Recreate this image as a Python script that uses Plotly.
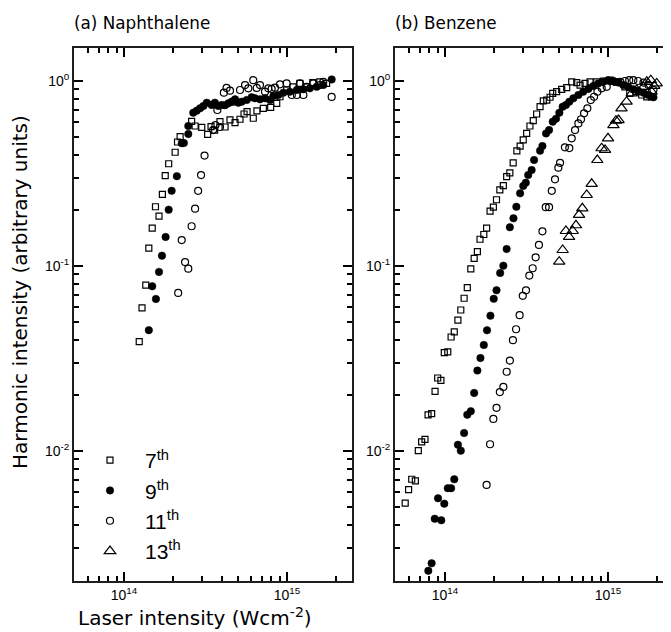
import plotly.graph_objects as go

# ---------------- data ----------------
# (a) Naphthalene
naph_7_x = [1.24e14, 1.29e14, 1.36e14, 1.42e14, 1.49e14, 1.56e14, 1.64e14, 1.72e14, 1.79e14, 1.88e14,
            2.06e14, 2.13e14, 2.21e14, 2.6e14, 2.73e14, 3.0e14, 3.26e14, 3.42e14, 3.6e14, 3.88e14,
            4.17e14, 4.47e14, 4.8e14, 5.15e14, 5.45e14, 5.69e14, 6.21e14, 6.54e14, 7.16e14, 7.94e14,
            8.65e14, 9.06e14, 9.95e14, 1.09e15, 1.2e15, 1.32e15, 1.44e15, 1.59e15, 1.75e15]
naph_7_y = [0.039, 0.0594, 0.0787, 0.125, 0.160, 0.209, 0.186, 0.244, 0.308, 0.357,
            0.412, 0.468, 0.50, 0.605, 0.571, 0.562, 0.515, 0.566, 0.543, 0.603,
            0.564, 0.616, 0.595, 0.621, 0.663, 0.683, 0.629, 0.689, 0.712, 0.721,
            0.757, 0.822, 0.894, 0.93, 0.972, 0.93, 0.98, 0.99, 0.97]

naph_9_x = [1.42e14, 1.49e14, 1.57e14, 1.64e14, 1.71e14, 1.80e14, 1.88e14, 1.96e14, 2.11e14, 2.26e14,
            2.33e14, 2.48e14, 2.48e14, 2.66e14, 2.79e14, 2.93e14, 3.07e14, 3.22e14, 3.45e14, 3.61e14,
            3.79e14, 3.98e14, 4.17e14, 4.37e14, 4.58e14, 4.80e14, 5.03e14, 5.27e14, 5.66e14, 6.07e14,
            6.36e14, 6.83e14, 7.33e14, 7.87e14, 8.25e14, 8.85e14, 9.5e14, 1.04e15, 1.15e15, 1.26e15,
            1.38e15, 1.52e15, 1.67e15, 1.88e15]
naph_9_y = [0.045, 0.0777, 0.0663, 0.0929, 0.1137, 0.1435, 0.2015, 0.255, 0.306, 0.461,
            0.462, 0.517, 0.571, 0.674, 0.691, 0.712, 0.733, 0.763, 0.742, 0.763,
            0.733, 0.742, 0.739, 0.757, 0.773, 0.796, 0.763, 0.773, 0.789, 0.817,
            0.806, 0.796, 0.806, 0.789, 0.83, 0.84, 0.865, 0.875, 0.894, 0.902,
            0.913, 0.93, 0.95, 1.02]

naph_11_x = [2.15e14, 2.26e14, 2.37e14, 2.48e14, 2.60e14, 2.73e14, 2.85e14, 2.97e14, 3.12e14, 3.52e14,
             3.64e14, 3.74e14, 3.88e14, 4.10e14, 4.26e14, 4.47e14, 4.68e14, 5.15e14, 5.53e14, 5.79e14,
             6.21e14, 6.52e14, 6.83e14, 7.33e14, 7.68e14, 8.05e14, 8.44e14, 9.06e14, 9.95e14, 1.07e15,
             1.15e15, 1.2e15, 1.26e15, 1.32e15, 1.45e15, 1.59e15, 1.67e15, 1.88e15]
naph_11_y = [0.0715, 0.138, 0.105, 0.0967, 0.164, 0.204, 0.255, 0.31, 0.395, 0.543,
             0.578, 0.697, 0.564, 0.865, 0.917, 0.887, 0.773, 0.894, 0.95, 0.913,
             1.01, 0.917, 0.95, 0.875, 0.913, 0.906, 0.92, 0.96, 0.97, 0.84,
             0.84, 0.97, 0.84, 0.93, 0.97, 0.95, 0.99, 0.82]

# (b) Benzene
benz_7_x = [5.7e13, 5.98e13, 6.25e13, 6.58e13, 6.86e13, 7.19e13, 7.54e13, 7.87e13, 8.28e13, 8.69e13,
            9.02e13, 9.44e13, 9.9e13, 1.04e14, 1.09e14, 1.14e14, 1.2e14, 1.25e14, 1.31e14, 1.37e14,
            1.44e14, 1.51e14, 1.58e14, 1.64e14, 1.73e14, 1.80e14, 1.89e14, 1.98e14, 2.07e14, 2.17e14,
            2.28e14, 2.39e14, 2.5e14, 2.62e14, 2.76e14, 2.89e14, 3.02e14, 3.17e14, 3.32e14, 3.48e14,
            3.65e14, 3.83e14, 4.01e14, 4.21e14, 4.41e14, 4.58e14, 4.84e14, 5.2e14, 5.58e14, 5.99e14,
            6.43e14, 6.74e14, 7.23e14, 7.76e14, 8.53e14, 9.36e14, 1.03e15, 1.13e15, 1.27e15, 1.36e15,
            1.5e15, 1.61e15, 1.73e15, 1.85e15]
benz_7_y = [0.00523, 0.00618, 0.00703, 0.00689, 0.01004, 0.0112, 0.01156, 0.01566, 0.0159, 0.021,
            0.0248, 0.0241, 0.034, 0.0343, 0.0413, 0.044, 0.051, 0.0578, 0.0669, 0.0763,
            0.0964, 0.110, 0.1195, 0.1395, 0.148, 0.16, 0.198, 0.208, 0.228, 0.258,
            0.272, 0.304, 0.319, 0.361, 0.419, 0.445, 0.48, 0.521, 0.571, 0.61,
            0.663, 0.726, 0.78, 0.789, 0.817, 0.858, 0.875, 0.902, 0.92, 0.99,
            0.98, 0.95, 0.97, 0.99, 0.99, 1.0, 1.01, 0.99, 0.93, 0.858,
            0.875, 0.84, 0.82, 0.82]

benz_9_x = [7.9e13, 8.28e13, 8.65e13, 9.49e13, 9.06e13, 9.9e13, 1.04e14, 1.09e14, 1.14e14, 1.2e14,
            1.25e14, 1.31e14, 1.37e14, 1.44e14, 1.51e14, 1.58e14, 1.65e14, 1.73e14, 1.81e14, 1.9e14,
            1.99e14, 2.07e14, 2.18e14, 2.28e14, 2.39e14, 2.5e14, 2.63e14, 2.74e14, 2.89e14, 3.02e14,
            3.13e14, 3.24e14, 3.4e14, 3.52e14, 3.83e14, 3.96e14, 4.17e14, 4.35e14, 4.58e14, 4.8e14,
            5.03e14, 5.27e14, 5.52e14, 5.79e14, 6.13e14, 6.58e14, 7.05e14, 7.57e14, 8.13e14, 8.71e14,
            9.35e14, 1.0e15, 1.08e15, 1.16e15, 1.24e15, 1.33e15, 1.43e15, 1.53e15, 1.65e15, 1.77e15,
            1.9e15]
benz_9_y = [0.00225, 0.00247, 0.0043, 0.00422, 0.00555, 0.00519, 0.00629, 0.00629, 0.00703, 0.0108,
            0.01004, 0.0125, 0.0157, 0.0164, 0.0206, 0.0272, 0.0318, 0.0374, 0.0449, 0.0539,
            0.0665, 0.0739, 0.0917, 0.1004, 0.1236, 0.162, 0.181, 0.209, 0.247, 0.271,
            0.282, 0.31, 0.33, 0.374, 0.42, 0.445, 0.521, 0.543, 0.603, 0.625,
            0.674, 0.726, 0.742, 0.773, 0.806, 0.84, 0.875, 0.906, 0.94, 0.97,
            0.99, 1.01, 1.0, 0.98, 0.95, 0.93, 0.902, 0.887, 0.865, 0.84,
            0.817]

benz_11_x = [1.8e14, 1.89e14, 1.98e14, 2.07e14, 2.17e14, 2.28e14, 2.39e14, 2.5e14, 2.61e14, 2.73e14,
             2.87e14, 3.0e14, 3.14e14, 3.29e14, 3.45e14, 3.6e14, 3.77e14, 3.96e14, 4.15e14, 4.35e14,
             4.52e14, 4.73e14, 4.96e14, 5.08e14, 5.44e14, 5.79e14, 5.99e14, 6.28e14, 6.58e14, 6.83e14,
             7.13e14, 7.47e14, 7.84e14, 8.21e14, 8.61e14, 9.15e14, 9.82e14, 1.03e15, 1.1e15, 1.19e15,
             1.27e15, 1.35e15, 1.43e15, 1.53e15, 1.65e15, 1.77e15, 1.9e15]
benz_11_y = [0.00655, 0.01087, 0.0149, 0.0171, 0.0208, 0.0222, 0.0268, 0.0308, 0.0397, 0.0455,
             0.0542, 0.069, 0.0739, 0.0887, 0.0972, 0.1114, 0.13, 0.154, 0.208, 0.208,
             0.255, 0.294, 0.34, 0.361, 0.438, 0.434, 0.49, 0.543, 0.59, 0.621,
             0.669, 0.712, 0.789, 0.822, 0.875, 0.913, 0.93, 1.0, 0.99, 0.99,
             1.0, 1.01, 1.01, 1.0, 0.98, 0.95, 0.894]

benz_13_x = [5.02e14, 5.27e14, 5.52e14, 5.77e14, 6.07e14, 6.36e14, 6.64e14, 6.96e14, 7.4e14, 7.94e14,
             8.6e14, 9.14e14, 9.59e14, 1.0e15, 1.08e15, 1.12e15, 1.16e15, 1.21e15, 1.3e15, 1.4e15,
             1.5e15, 1.65e15, 1.73e15, 1.83e15, 1.85e15, 1.92e15, 1.99e15]
benz_13_y = [0.1055, 0.122, 0.1546, 0.1435, 0.1546, 0.166, 0.189, 0.205, 0.242, 0.278,
             0.374, 0.433, 0.424, 0.49, 0.578, 0.61, 0.615, 0.712, 0.773, 0.858,
             0.894, 0.93, 0.99, 1.01, 0.875, 0.94, 0.97]

series_names = ["7<sup>th</sup>", "9<sup>th</sup>", "11<sup>th</sup>", "13<sup>th</sup>"]

x_tick_vals = [1e14, 1e15]
x_tick_text = ["10<sup>14</sup>", "10<sup>15</sup>"]
y_tick_vals = [1e-2, 1e-1, 1]
y_tick_text = ["10<sup>-2</sup>", "10<sup>-1</sup>", "10<sup>0</sup>"]
x_minor_vals = [m * 10.0 ** e for e in (13, 14, 15) for m in range(2, 10)]
y_minor_vals = [m * 10.0 ** e for e in (-3, -2, -1, 0) for m in range(2, 10)]

# ---------------- layout helpers ----------------
OFF = 8                      # page body margin of the html page
W, H = 671 - OFF, 632 - OFF  # figure size so that it fills the window


def fx(p):  # page pixel x -> paper
    return (p - OFF) / W


def fy(p):  # page pixel y -> paper
    return (H - (p - OFF)) / H


styles = [
    dict(symbol="square-open", size=6, color="black", line=dict(width=1.2, color="black")),
    dict(symbol="circle", size=7.5, color="black", line=dict(width=0.5, color="black")),
    dict(symbol="circle-open", size=7, color="black", line=dict(width=1.2, color="black")),
    dict(symbol="triangle-up-open", size=10, color="black", line=dict(width=1.2, color="black")),
]

fig = go.Figure()

benz = [(benz_7_x, benz_7_y), (benz_9_x, benz_9_y), (benz_11_x, benz_11_y), (benz_13_x, benz_13_y)]
for i, (xs, ys) in enumerate(benz):
    fig.add_trace(go.Scatter(x=xs, y=ys, mode="markers", name=series_names[i],
                             marker=styles[i], xaxis="x2", yaxis="y2", showlegend=True))

naph = [(naph_7_x, naph_7_y), (naph_9_x, naph_9_y), (naph_11_x, naph_11_y)]
for i, (xs, ys) in enumerate(naph):
    fig.add_trace(go.Scatter(x=xs, y=ys, mode="markers", name=series_names[i],
                             marker=styles[i], xaxis="x", yaxis="y", showlegend=False))

tickfont = dict(family="Liberation Sans, Arial, sans-serif", size=14, color="black")
LINE = "#1e1e1e"
TICK = "#000000"


def axis(minor_vals, **kw):
    d = dict(type="log", showline=True, linewidth=2, linecolor=LINE, mirror="ticks",
             ticks="inside", ticklen=9, tickwidth=2, tickcolor=TICK,
             showgrid=False, zeroline=False, tickfont=tickfont,
             minor=dict(tickmode="array", tickvals=minor_vals, ticks="inside", ticklen=5,
                        tickwidth=1.5, tickcolor=TICK, showgrid=False))
    d.update(kw)
    return d


xr1 = [13.6933, 15.3988]
xr2 = [13.6933, 15.3865]
yr = [-2.703, 0.18]
yd = [fy(581), fy(47.7)]

fig.update_layout(
    width=W, height=H,
    margin=dict(l=0, r=0, t=0, b=0),
    plot_bgcolor="white",
    xaxis=axis(x_minor_vals, domain=[fx(74), fx(352)], range=xr1, anchor="y",
               tickvals=x_tick_vals, ticktext=x_tick_text),
    yaxis=axis(y_minor_vals, domain=yd, range=yr, anchor="x",
               tickvals=y_tick_vals, ticktext=y_tick_text),
    xaxis2=axis(x_minor_vals, domain=[fx(395), 1.0], range=xr2, anchor="y2",
                tickvals=x_tick_vals, ticktext=x_tick_text),
    yaxis2=axis(y_minor_vals, domain=yd, range=yr, anchor="x2", mirror=False,
                tickvals=y_tick_vals, ticktext=y_tick_text),
    legend=dict(x=fx(75), y=fy(440), xanchor="left", yanchor="top",
                bgcolor="rgba(0,0,0,0)", borderwidth=0,
                font=dict(family="Liberation Sans, Arial, sans-serif", size=21, color="black"),
                itemwidth=60),
    annotations=[
        dict(text="(a) Naphthalene", x=fx(72), y=fy(23), xref="paper", yref="paper",
             xanchor="left", yanchor="middle", showarrow=False,
             font=dict(family="DejaVu Sans", size=16.8, color="black")),
        dict(text="(b) Benzene", x=fx(393), y=fy(23), xref="paper", yref="paper",
             xanchor="left", yanchor="middle", showarrow=False,
             font=dict(family="DejaVu Sans", size=16.8, color="black")),
        dict(text="Laser intensity (Wcm<sup>-2</sup>)", x=fx(195), y=fy(617),
             xref="paper", yref="paper", xanchor="center", yanchor="middle", showarrow=False,
             font=dict(family="DejaVu Sans", size=20, color="black")),
        dict(text="Harmonic intensity (arbitrary units)", x=fx(20), y=fy(292),
             xref="paper", yref="paper", xanchor="center", yanchor="middle", showarrow=False,
             textangle=-90, font=dict(family="DejaVu Sans", size=20, color="black")),
    ],
)

fig.write_html("out.html")
